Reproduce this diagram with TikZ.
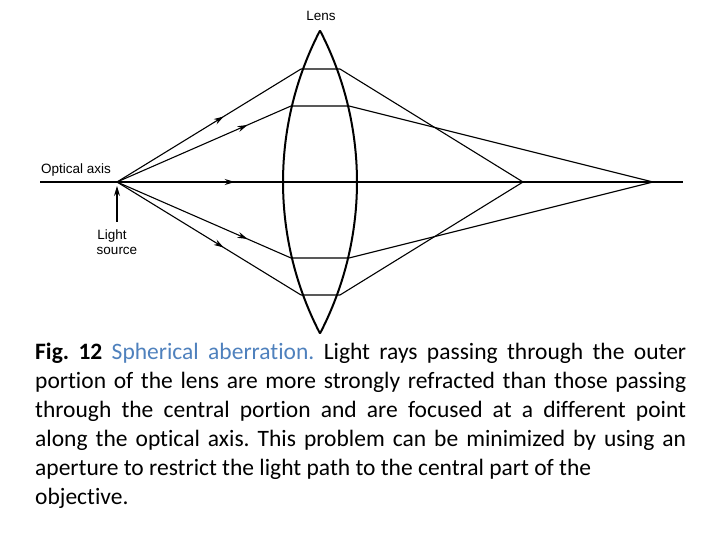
\documentclass[tikz,border=0pt]{standalone}
\usepackage{fontspec}
\setmainfont{Carlito}[Ligatures={NoCommon,TeX}]
\newfontfamily\lab{Liberation Sans}
\usetikzlibrary{decorations.markings,arrows.meta}
\definecolor{capblue}{HTML}{4F81BD}
\frenchspacing
\begin{document}
\begin{tikzpicture}[x=1pt,y=-1pt,
  ray/.style={line width=1.1pt},
  lensline/.style={line width=2pt},
  lbl/.style={font=\lab\fontsize{13.5}{15}\selectfont,inner sep=0pt},
  marr/.style={postaction={decorate},decoration={markings,mark=at position #1 with {\arrow{Stealth[length=10pt,width=6pt]}}}}]
\useasboundingbox (0,0) rectangle (720,540);
\coordinate (S) at (117,182);
\coordinate (A0) at (40,182);
\coordinate (A1) at (683,182);
\coordinate (F1) at (523,182);
\coordinate (F2) at (653,182);
\coordinate (U1l) at (301,69); \coordinate (U1r) at (340,69);
\coordinate (U2l) at (291,106); \coordinate (U2r) at (349,106);
\coordinate (D1l) at (301,295); \coordinate (D1r) at (340,295);
\coordinate (D2l) at (291,258); \coordinate (D2r) at (349,258);
% lens
\draw[lensline] plot[domain=-27.45:27.45,samples=50] ({611.7-328.7*cos(\x)},{182+328.7*sin(\x)});
\draw[lensline] plot[domain=-27.45:27.45,samples=50] ({28.3+328.7*cos(\x)},{182+328.7*sin(\x)});
% axis
\draw[ray] (A0) -- (A1);
\draw[ray,marr=0.29] (S) -- (F1);
% rays
\draw[ray,marr=0.58] (S) -- (U1l);
\draw[ray] (U1l) -- (U1r) -- (F1);
\draw[ray,marr=0.75] (S) -- (U2l);
\draw[ray] (U2l) -- (U2r) -- (F2);
\draw[ray,marr=0.58] (S) -- (D1l);
\draw[ray] (D1l) -- (D1r) -- (F1);
\draw[ray,marr=0.75] (S) -- (D2l);
\draw[ray] (D2l) -- (D2r) -- (F2);
% light source arrow
\coordinate (LS) at (117,222);
\draw[ray,-{Stealth[length=10pt,width=6pt]}] (LS) -- (117,186);
% labels
\node[lbl] (lens) at (321,16) {Lens};
\node[lbl] (oa) at (76,170) {Optical axis};
\node[lbl] (l1) at (112,236) {Light};
\node[lbl] (l2) at (117,251) {source};
% caption
\node[anchor=north west,inner sep=0pt,text width=651pt,align=justify,
  font=\fontsize{23.5}{29}\selectfont] (cap) at (35,343)
{\textbf{Fig.~12} \textcolor{capblue}{Spherical aberration.} Light rays passing through the outer\linebreak
portion of the lens are more strongly refracted than those passing\linebreak
through the central portion and are focused at a different point\linebreak
along the optical axis. This problem can be minimized by using an\linebreak
aperture to restrict the light path to the central part of the\\
objective.};
\end{tikzpicture}
\end{document}
